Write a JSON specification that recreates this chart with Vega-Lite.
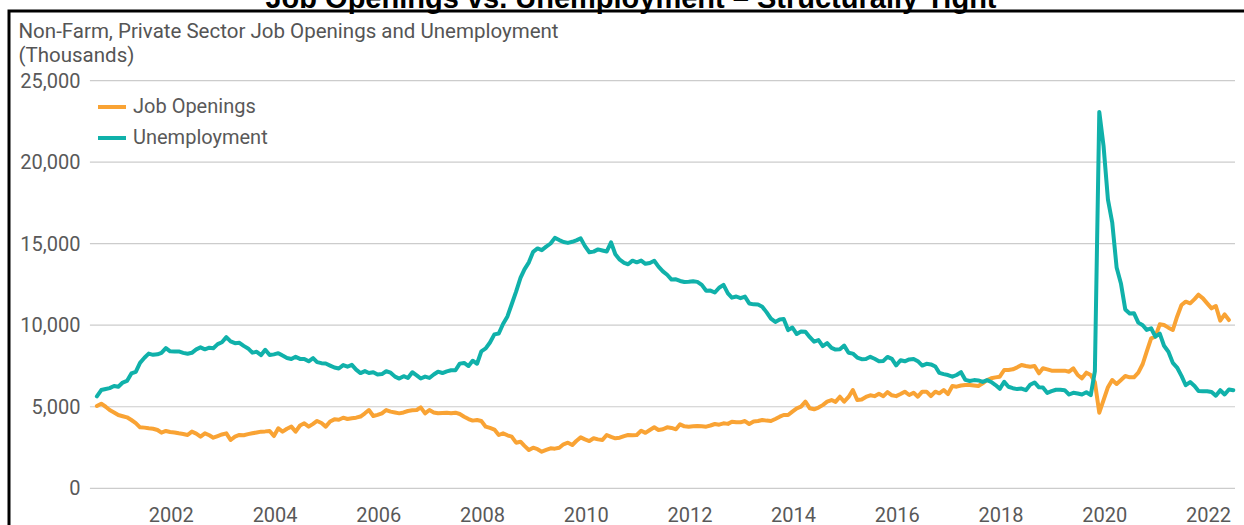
{
  "$schema": "https://vega.github.io/schema/vega-lite/v6.json",
  "width": 1250,
  "height": 530,
  "autosize": {"type": "none"},
  "padding": {"left": 9, "top": 11, "right": 0, "bottom": 0},
  "background": "white",
  "title": {
    "text": "Job Openings vs. Unemployment – Structurally Tight",
    "font": "Liberation Sans",
    "fontWeight": "bold",
    "fontSize": 29,
    "color": "#000000",
    "anchor": "middle",
    "baseline": "top",
    "offset": 0,
    "dx": -3,
    "dy": 2.5
  },
  "config": {
    "view": {"stroke": "#000000", "strokeWidth": 3},
    "font": "Roboto"
  },
  "layer": [
    {
      "data": {"values": [{"value": 0}, {"value": 5000}, {"value": 10000}, {"value": 15000}, {"value": 20000}, {"value": 25000}]},
      "mark": {"type": "rule", "color": "#cccccc", "strokeWidth": 1.2},
      "encoding": {
        "y": {"field": "value", "type": "quantitative"},
        "x": {"datum": {"year": 2000, "month": 10, "date": 13, "utc": true}, "type": "temporal"},
        "x2": {"datum": {"year": 2022, "month": 11, "date": 13, "utc": true}}
      }
    },
    {
      "data": {"values": [
{"date":"2000-12-01","series":"Job Openings","value":5045},
{"date":"2001-01-01","series":"Job Openings","value":5188},
{"date":"2001-02-01","series":"Job Openings","value":5000},
{"date":"2001-03-01","series":"Job Openings","value":4800},
{"date":"2001-04-01","series":"Job Openings","value":4650},
{"date":"2001-05-01","series":"Job Openings","value":4493},
{"date":"2001-06-01","series":"Job Openings","value":4420},
{"date":"2001-07-01","series":"Job Openings","value":4352},
{"date":"2001-08-01","series":"Job Openings","value":4187},
{"date":"2001-09-01","series":"Job Openings","value":4000},
{"date":"2001-10-01","series":"Job Openings","value":3739},
{"date":"2001-11-01","series":"Job Openings","value":3720},
{"date":"2001-12-01","series":"Job Openings","value":3678},
{"date":"2002-01-01","series":"Job Openings","value":3650},
{"date":"2002-02-01","series":"Job Openings","value":3576},
{"date":"2002-03-01","series":"Job Openings","value":3412},
{"date":"2002-04-01","series":"Job Openings","value":3514},
{"date":"2002-05-01","series":"Job Openings","value":3450},
{"date":"2002-06-01","series":"Job Openings","value":3420},
{"date":"2002-07-01","series":"Job Openings","value":3371},
{"date":"2002-08-01","series":"Job Openings","value":3330},
{"date":"2002-09-01","series":"Job Openings","value":3269},
{"date":"2002-10-01","series":"Job Openings","value":3474},
{"date":"2002-11-01","series":"Job Openings","value":3350},
{"date":"2002-12-01","series":"Job Openings","value":3166},
{"date":"2003-01-01","series":"Job Openings","value":3371},
{"date":"2003-02-01","series":"Job Openings","value":3250},
{"date":"2003-03-01","series":"Job Openings","value":3104},
{"date":"2003-04-01","series":"Job Openings","value":3206},
{"date":"2003-05-01","series":"Job Openings","value":3300},
{"date":"2003-06-01","series":"Job Openings","value":3371},
{"date":"2003-07-01","series":"Job Openings","value":2962},
{"date":"2003-08-01","series":"Job Openings","value":3166},
{"date":"2003-09-01","series":"Job Openings","value":3269},
{"date":"2003-10-01","series":"Job Openings","value":3250},
{"date":"2003-11-01","series":"Job Openings","value":3320},
{"date":"2003-12-01","series":"Job Openings","value":3371},
{"date":"2004-01-01","series":"Job Openings","value":3420},
{"date":"2004-02-01","series":"Job Openings","value":3474},
{"date":"2004-03-01","series":"Job Openings","value":3490},
{"date":"2004-04-01","series":"Job Openings","value":3514},
{"date":"2004-05-01","series":"Job Openings","value":3206},
{"date":"2004-06-01","series":"Job Openings","value":3678},
{"date":"2004-07-01","series":"Job Openings","value":3474},
{"date":"2004-08-01","series":"Job Openings","value":3650},
{"date":"2004-09-01","series":"Job Openings","value":3780},
{"date":"2004-10-01","series":"Job Openings","value":3474},
{"date":"2004-11-01","series":"Job Openings","value":3850},
{"date":"2004-12-01","series":"Job Openings","value":3984},
{"date":"2005-01-01","series":"Job Openings","value":3780},
{"date":"2005-02-01","series":"Job Openings","value":3950},
{"date":"2005-03-01","series":"Job Openings","value":4127},
{"date":"2005-04-01","series":"Job Openings","value":4000},
{"date":"2005-05-01","series":"Job Openings","value":3780},
{"date":"2005-06-01","series":"Job Openings","value":4100},
{"date":"2005-07-01","series":"Job Openings","value":4228},
{"date":"2005-08-01","series":"Job Openings","value":4200},
{"date":"2005-09-01","series":"Job Openings","value":4330},
{"date":"2005-10-01","series":"Job Openings","value":4250},
{"date":"2005-11-01","series":"Job Openings","value":4300},
{"date":"2005-12-01","series":"Job Openings","value":4330},
{"date":"2006-01-01","series":"Job Openings","value":4400},
{"date":"2006-02-01","series":"Job Openings","value":4596},
{"date":"2006-03-01","series":"Job Openings","value":4800},
{"date":"2006-04-01","series":"Job Openings","value":4432},
{"date":"2006-05-01","series":"Job Openings","value":4500},
{"date":"2006-06-01","series":"Job Openings","value":4596},
{"date":"2006-07-01","series":"Job Openings","value":4800},
{"date":"2006-08-01","series":"Job Openings","value":4700},
{"date":"2006-09-01","series":"Job Openings","value":4650},
{"date":"2006-10-01","series":"Job Openings","value":4596},
{"date":"2006-11-01","series":"Job Openings","value":4650},
{"date":"2006-12-01","series":"Job Openings","value":4740},
{"date":"2007-01-01","series":"Job Openings","value":4780},
{"date":"2007-02-01","series":"Job Openings","value":4800},
{"date":"2007-03-01","series":"Job Openings","value":4964},
{"date":"2007-04-01","series":"Job Openings","value":4596},
{"date":"2007-05-01","series":"Job Openings","value":4800},
{"date":"2007-06-01","series":"Job Openings","value":4650},
{"date":"2007-07-01","series":"Job Openings","value":4597},
{"date":"2007-08-01","series":"Job Openings","value":4620},
{"date":"2007-09-01","series":"Job Openings","value":4637},
{"date":"2007-10-01","series":"Job Openings","value":4600},
{"date":"2007-11-01","series":"Job Openings","value":4637},
{"date":"2007-12-01","series":"Job Openings","value":4555},
{"date":"2008-01-01","series":"Job Openings","value":4391},
{"date":"2008-02-01","series":"Job Openings","value":4248},
{"date":"2008-03-01","series":"Job Openings","value":4150},
{"date":"2008-04-01","series":"Job Openings","value":4187},
{"date":"2008-05-01","series":"Job Openings","value":4125},
{"date":"2008-06-01","series":"Job Openings","value":3780},
{"date":"2008-07-01","series":"Job Openings","value":3700},
{"date":"2008-08-01","series":"Job Openings","value":3600},
{"date":"2008-09-01","series":"Job Openings","value":3267},
{"date":"2008-10-01","series":"Job Openings","value":3371},
{"date":"2008-11-01","series":"Job Openings","value":3250},
{"date":"2008-12-01","series":"Job Openings","value":3165},
{"date":"2009-01-01","series":"Job Openings","value":2797},
{"date":"2009-02-01","series":"Job Openings","value":2858},
{"date":"2009-03-01","series":"Job Openings","value":2600},
{"date":"2009-04-01","series":"Job Openings","value":2348},
{"date":"2009-05-01","series":"Job Openings","value":2490},
{"date":"2009-06-01","series":"Job Openings","value":2400},
{"date":"2009-07-01","series":"Job Openings","value":2246},
{"date":"2009-08-01","series":"Job Openings","value":2350},
{"date":"2009-09-01","series":"Job Openings","value":2452},
{"date":"2009-10-01","series":"Job Openings","value":2430},
{"date":"2009-11-01","series":"Job Openings","value":2490},
{"date":"2009-12-01","series":"Job Openings","value":2700},
{"date":"2010-01-01","series":"Job Openings","value":2797},
{"date":"2010-02-01","series":"Job Openings","value":2654},
{"date":"2010-03-01","series":"Job Openings","value":2900},
{"date":"2010-04-01","series":"Job Openings","value":3124},
{"date":"2010-05-01","series":"Job Openings","value":3000},
{"date":"2010-06-01","series":"Job Openings","value":2900},
{"date":"2010-07-01","series":"Job Openings","value":3065},
{"date":"2010-08-01","series":"Job Openings","value":3000},
{"date":"2010-09-01","series":"Job Openings","value":2961},
{"date":"2010-10-01","series":"Job Openings","value":3267},
{"date":"2010-11-01","series":"Job Openings","value":3150},
{"date":"2010-12-01","series":"Job Openings","value":3065},
{"date":"2011-01-01","series":"Job Openings","value":3100},
{"date":"2011-02-01","series":"Job Openings","value":3200},
{"date":"2011-03-01","series":"Job Openings","value":3267},
{"date":"2011-04-01","series":"Job Openings","value":3250},
{"date":"2011-05-01","series":"Job Openings","value":3267},
{"date":"2011-06-01","series":"Job Openings","value":3532},
{"date":"2011-07-01","series":"Job Openings","value":3400},
{"date":"2011-08-01","series":"Job Openings","value":3576},
{"date":"2011-09-01","series":"Job Openings","value":3739},
{"date":"2011-10-01","series":"Job Openings","value":3576},
{"date":"2011-11-01","series":"Job Openings","value":3620},
{"date":"2011-12-01","series":"Job Openings","value":3739},
{"date":"2012-01-01","series":"Job Openings","value":3700},
{"date":"2012-02-01","series":"Job Openings","value":3617},
{"date":"2012-03-01","series":"Job Openings","value":3923},
{"date":"2012-04-01","series":"Job Openings","value":3800},
{"date":"2012-05-01","series":"Job Openings","value":3778},
{"date":"2012-06-01","series":"Job Openings","value":3800},
{"date":"2012-07-01","series":"Job Openings","value":3820},
{"date":"2012-08-01","series":"Job Openings","value":3800},
{"date":"2012-09-01","series":"Job Openings","value":3778},
{"date":"2012-10-01","series":"Job Openings","value":3850},
{"date":"2012-11-01","series":"Job Openings","value":3943},
{"date":"2012-12-01","series":"Job Openings","value":3900},
{"date":"2013-01-01","series":"Job Openings","value":3984},
{"date":"2013-02-01","series":"Job Openings","value":3950},
{"date":"2013-03-01","series":"Job Openings","value":4084},
{"date":"2013-04-01","series":"Job Openings","value":4050},
{"date":"2013-05-01","series":"Job Openings","value":4045},
{"date":"2013-06-01","series":"Job Openings","value":4125},
{"date":"2013-07-01","series":"Job Openings","value":3943},
{"date":"2013-08-01","series":"Job Openings","value":4100},
{"date":"2013-09-01","series":"Job Openings","value":4125},
{"date":"2013-10-01","series":"Job Openings","value":4187},
{"date":"2013-11-01","series":"Job Openings","value":4150},
{"date":"2013-12-01","series":"Job Openings","value":4125},
{"date":"2014-01-01","series":"Job Openings","value":4250},
{"date":"2014-02-01","series":"Job Openings","value":4390},
{"date":"2014-03-01","series":"Job Openings","value":4493},
{"date":"2014-04-01","series":"Job Openings","value":4493},
{"date":"2014-05-01","series":"Job Openings","value":4700},
{"date":"2014-06-01","series":"Job Openings","value":4900},
{"date":"2014-07-01","series":"Job Openings","value":5004},
{"date":"2014-08-01","series":"Job Openings","value":5310},
{"date":"2014-09-01","series":"Job Openings","value":4904},
{"date":"2014-10-01","series":"Job Openings","value":4843},
{"date":"2014-11-01","series":"Job Openings","value":4950},
{"date":"2014-12-01","series":"Job Openings","value":5100},
{"date":"2015-01-01","series":"Job Openings","value":5310},
{"date":"2015-02-01","series":"Job Openings","value":5413},
{"date":"2015-03-01","series":"Job Openings","value":5300},
{"date":"2015-04-01","series":"Job Openings","value":5617},
{"date":"2015-05-01","series":"Job Openings","value":5310},
{"date":"2015-06-01","series":"Job Openings","value":5600},
{"date":"2015-07-01","series":"Job Openings","value":6026},
{"date":"2015-08-01","series":"Job Openings","value":5413},
{"date":"2015-09-01","series":"Job Openings","value":5450},
{"date":"2015-10-01","series":"Job Openings","value":5600},
{"date":"2015-11-01","series":"Job Openings","value":5700},
{"date":"2015-12-01","series":"Job Openings","value":5650},
{"date":"2016-01-01","series":"Job Openings","value":5800},
{"date":"2016-02-01","series":"Job Openings","value":5650},
{"date":"2016-03-01","series":"Job Openings","value":5900},
{"date":"2016-04-01","series":"Job Openings","value":5700},
{"date":"2016-05-01","series":"Job Openings","value":5650},
{"date":"2016-06-01","series":"Job Openings","value":5781},
{"date":"2016-07-01","series":"Job Openings","value":5923},
{"date":"2016-08-01","series":"Job Openings","value":5719},
{"date":"2016-09-01","series":"Job Openings","value":5862},
{"date":"2016-10-01","series":"Job Openings","value":5617},
{"date":"2016-11-01","series":"Job Openings","value":5923},
{"date":"2016-12-01","series":"Job Openings","value":5923},
{"date":"2017-01-01","series":"Job Openings","value":5658},
{"date":"2017-02-01","series":"Job Openings","value":5923},
{"date":"2017-03-01","series":"Job Openings","value":5822},
{"date":"2017-04-01","series":"Job Openings","value":6026},
{"date":"2017-05-01","series":"Job Openings","value":5781},
{"date":"2017-06-01","series":"Job Openings","value":6271},
{"date":"2017-07-01","series":"Job Openings","value":6230},
{"date":"2017-08-01","series":"Job Openings","value":6300},
{"date":"2017-09-01","series":"Job Openings","value":6332},
{"date":"2017-10-01","series":"Job Openings","value":6332},
{"date":"2017-11-01","series":"Job Openings","value":6300},
{"date":"2017-12-01","series":"Job Openings","value":6271},
{"date":"2018-01-01","series":"Job Openings","value":6437},
{"date":"2018-02-01","series":"Job Openings","value":6640},
{"date":"2018-03-01","series":"Job Openings","value":6743},
{"date":"2018-04-01","series":"Job Openings","value":6800},
{"date":"2018-05-01","series":"Job Openings","value":6843},
{"date":"2018-06-01","series":"Job Openings","value":7253},
{"date":"2018-07-01","series":"Job Openings","value":7253},
{"date":"2018-08-01","series":"Job Openings","value":7294},
{"date":"2018-09-01","series":"Job Openings","value":7417},
{"date":"2018-10-01","series":"Job Openings","value":7560},
{"date":"2018-11-01","series":"Job Openings","value":7500},
{"date":"2018-12-01","series":"Job Openings","value":7457},
{"date":"2019-01-01","series":"Job Openings","value":7499},
{"date":"2019-02-01","series":"Job Openings","value":7050},
{"date":"2019-03-01","series":"Job Openings","value":7356},
{"date":"2019-04-01","series":"Job Openings","value":7294},
{"date":"2019-05-01","series":"Job Openings","value":7213},
{"date":"2019-06-01","series":"Job Openings","value":7213},
{"date":"2019-07-01","series":"Job Openings","value":7213},
{"date":"2019-08-01","series":"Job Openings","value":7213},
{"date":"2019-09-01","series":"Job Openings","value":7150},
{"date":"2019-10-01","series":"Job Openings","value":7356},
{"date":"2019-11-01","series":"Job Openings","value":6945},
{"date":"2019-12-01","series":"Job Openings","value":6743},
{"date":"2020-01-01","series":"Job Openings","value":7089},
{"date":"2020-02-01","series":"Job Openings","value":6945},
{"date":"2020-03-01","series":"Job Openings","value":6500},
{"date":"2020-04-01","series":"Job Openings","value":4635},
{"date":"2020-05-01","series":"Job Openings","value":5400},
{"date":"2020-06-01","series":"Job Openings","value":6200},
{"date":"2020-07-01","series":"Job Openings","value":6640},
{"date":"2020-08-01","series":"Job Openings","value":6393},
{"date":"2020-09-01","series":"Job Openings","value":6640},
{"date":"2020-10-01","series":"Job Openings","value":6884},
{"date":"2020-11-01","series":"Job Openings","value":6803},
{"date":"2020-12-01","series":"Job Openings","value":6803},
{"date":"2021-01-01","series":"Job Openings","value":7089},
{"date":"2021-02-01","series":"Job Openings","value":7621},
{"date":"2021-03-01","series":"Job Openings","value":8375},
{"date":"2021-04-01","series":"Job Openings","value":9195},
{"date":"2021-05-01","series":"Job Openings","value":9295},
{"date":"2021-06-01","series":"Job Openings","value":10053},
{"date":"2021-07-01","series":"Job Openings","value":10012},
{"date":"2021-08-01","series":"Job Openings","value":9850},
{"date":"2021-09-01","series":"Job Openings","value":9705},
{"date":"2021-10-01","series":"Job Openings","value":10521},
{"date":"2021-11-01","series":"Job Openings","value":11237},
{"date":"2021-12-01","series":"Job Openings","value":11441},
{"date":"2022-01-01","series":"Job Openings","value":11340},
{"date":"2022-02-01","series":"Job Openings","value":11600},
{"date":"2022-03-01","series":"Job Openings","value":11870},
{"date":"2022-04-01","series":"Job Openings","value":11647},
{"date":"2022-05-01","series":"Job Openings","value":11340},
{"date":"2022-06-01","series":"Job Openings","value":11034},
{"date":"2022-07-01","series":"Job Openings","value":11176},
{"date":"2022-08-01","series":"Job Openings","value":10276},
{"date":"2022-09-01","series":"Job Openings","value":10664},
{"date":"2022-10-01","series":"Job Openings","value":10318},
{"date":"2000-12-01","series":"Unemployment","value":5634},
{"date":"2001-01-01","series":"Unemployment","value":6023},
{"date":"2001-02-01","series":"Unemployment","value":6089},
{"date":"2001-03-01","series":"Unemployment","value":6141},
{"date":"2001-04-01","series":"Unemployment","value":6271},
{"date":"2001-05-01","series":"Unemployment","value":6226},
{"date":"2001-06-01","series":"Unemployment","value":6484},
{"date":"2001-07-01","series":"Unemployment","value":6583},
{"date":"2001-08-01","series":"Unemployment","value":7042},
{"date":"2001-09-01","series":"Unemployment","value":7142},
{"date":"2001-10-01","series":"Unemployment","value":7694},
{"date":"2001-11-01","series":"Unemployment","value":8003},
{"date":"2001-12-01","series":"Unemployment","value":8258},
{"date":"2002-01-01","series":"Unemployment","value":8182},
{"date":"2002-02-01","series":"Unemployment","value":8215},
{"date":"2002-03-01","series":"Unemployment","value":8304},
{"date":"2002-04-01","series":"Unemployment","value":8599},
{"date":"2002-05-01","series":"Unemployment","value":8399},
{"date":"2002-06-01","series":"Unemployment","value":8393},
{"date":"2002-07-01","series":"Unemployment","value":8390},
{"date":"2002-08-01","series":"Unemployment","value":8304},
{"date":"2002-09-01","series":"Unemployment","value":8251},
{"date":"2002-10-01","series":"Unemployment","value":8307},
{"date":"2002-11-01","series":"Unemployment","value":8520},
{"date":"2002-12-01","series":"Unemployment","value":8640},
{"date":"2003-01-01","series":"Unemployment","value":8520},
{"date":"2003-02-01","series":"Unemployment","value":8618},
{"date":"2003-03-01","series":"Unemployment","value":8588},
{"date":"2003-04-01","series":"Unemployment","value":8842},
{"date":"2003-05-01","series":"Unemployment","value":8957},
{"date":"2003-06-01","series":"Unemployment","value":9266},
{"date":"2003-07-01","series":"Unemployment","value":9011},
{"date":"2003-08-01","series":"Unemployment","value":8896},
{"date":"2003-09-01","series":"Unemployment","value":8921},
{"date":"2003-10-01","series":"Unemployment","value":8732},
{"date":"2003-11-01","series":"Unemployment","value":8576},
{"date":"2003-12-01","series":"Unemployment","value":8317},
{"date":"2004-01-01","series":"Unemployment","value":8370},
{"date":"2004-02-01","series":"Unemployment","value":8167},
{"date":"2004-03-01","series":"Unemployment","value":8491},
{"date":"2004-04-01","series":"Unemployment","value":8170},
{"date":"2004-05-01","series":"Unemployment","value":8212},
{"date":"2004-06-01","series":"Unemployment","value":8286},
{"date":"2004-07-01","series":"Unemployment","value":8136},
{"date":"2004-08-01","series":"Unemployment","value":7990},
{"date":"2004-09-01","series":"Unemployment","value":7927},
{"date":"2004-10-01","series":"Unemployment","value":8061},
{"date":"2004-11-01","series":"Unemployment","value":7932},
{"date":"2004-12-01","series":"Unemployment","value":7934},
{"date":"2005-01-01","series":"Unemployment","value":7784},
{"date":"2005-02-01","series":"Unemployment","value":7980},
{"date":"2005-03-01","series":"Unemployment","value":7737},
{"date":"2005-04-01","series":"Unemployment","value":7672},
{"date":"2005-05-01","series":"Unemployment","value":7651},
{"date":"2005-06-01","series":"Unemployment","value":7524},
{"date":"2005-07-01","series":"Unemployment","value":7406},
{"date":"2005-08-01","series":"Unemployment","value":7345},
{"date":"2005-09-01","series":"Unemployment","value":7553},
{"date":"2005-10-01","series":"Unemployment","value":7453},
{"date":"2005-11-01","series":"Unemployment","value":7566},
{"date":"2005-12-01","series":"Unemployment","value":7279},
{"date":"2006-01-01","series":"Unemployment","value":7064},
{"date":"2006-02-01","series":"Unemployment","value":7184},
{"date":"2006-03-01","series":"Unemployment","value":7072},
{"date":"2006-04-01","series":"Unemployment","value":7120},
{"date":"2006-05-01","series":"Unemployment","value":6980},
{"date":"2006-06-01","series":"Unemployment","value":7001},
{"date":"2006-07-01","series":"Unemployment","value":7175},
{"date":"2006-08-01","series":"Unemployment","value":7091},
{"date":"2006-09-01","series":"Unemployment","value":6847},
{"date":"2006-10-01","series":"Unemployment","value":6727},
{"date":"2006-11-01","series":"Unemployment","value":6872},
{"date":"2006-12-01","series":"Unemployment","value":6762},
{"date":"2007-01-01","series":"Unemployment","value":7116},
{"date":"2007-02-01","series":"Unemployment","value":6927},
{"date":"2007-03-01","series":"Unemployment","value":6731},
{"date":"2007-04-01","series":"Unemployment","value":6850},
{"date":"2007-05-01","series":"Unemployment","value":6766},
{"date":"2007-06-01","series":"Unemployment","value":6979},
{"date":"2007-07-01","series":"Unemployment","value":7149},
{"date":"2007-08-01","series":"Unemployment","value":7067},
{"date":"2007-09-01","series":"Unemployment","value":7170},
{"date":"2007-10-01","series":"Unemployment","value":7237},
{"date":"2007-11-01","series":"Unemployment","value":7240},
{"date":"2007-12-01","series":"Unemployment","value":7645},
{"date":"2008-01-01","series":"Unemployment","value":7685},
{"date":"2008-02-01","series":"Unemployment","value":7497},
{"date":"2008-03-01","series":"Unemployment","value":7822},
{"date":"2008-04-01","series":"Unemployment","value":7637},
{"date":"2008-05-01","series":"Unemployment","value":8395},
{"date":"2008-06-01","series":"Unemployment","value":8575},
{"date":"2008-07-01","series":"Unemployment","value":8937},
{"date":"2008-08-01","series":"Unemployment","value":9438},
{"date":"2008-09-01","series":"Unemployment","value":9494},
{"date":"2008-10-01","series":"Unemployment","value":10074},
{"date":"2008-11-01","series":"Unemployment","value":10538},
{"date":"2008-12-01","series":"Unemployment","value":11286},
{"date":"2009-01-01","series":"Unemployment","value":12058},
{"date":"2009-02-01","series":"Unemployment","value":12898},
{"date":"2009-03-01","series":"Unemployment","value":13426},
{"date":"2009-04-01","series":"Unemployment","value":13853},
{"date":"2009-05-01","series":"Unemployment","value":14499},
{"date":"2009-06-01","series":"Unemployment","value":14707},
{"date":"2009-07-01","series":"Unemployment","value":14601},
{"date":"2009-08-01","series":"Unemployment","value":14814},
{"date":"2009-09-01","series":"Unemployment","value":15009},
{"date":"2009-10-01","series":"Unemployment","value":15352},
{"date":"2009-11-01","series":"Unemployment","value":15219},
{"date":"2009-12-01","series":"Unemployment","value":15098},
{"date":"2010-01-01","series":"Unemployment","value":15046},
{"date":"2010-02-01","series":"Unemployment","value":15113},
{"date":"2010-03-01","series":"Unemployment","value":15202},
{"date":"2010-04-01","series":"Unemployment","value":15325},
{"date":"2010-05-01","series":"Unemployment","value":14849},
{"date":"2010-06-01","series":"Unemployment","value":14474},
{"date":"2010-07-01","series":"Unemployment","value":14512},
{"date":"2010-08-01","series":"Unemployment","value":14648},
{"date":"2010-09-01","series":"Unemployment","value":14579},
{"date":"2010-10-01","series":"Unemployment","value":14516},
{"date":"2010-11-01","series":"Unemployment","value":15081},
{"date":"2010-12-01","series":"Unemployment","value":14348},
{"date":"2011-01-01","series":"Unemployment","value":14013},
{"date":"2011-02-01","series":"Unemployment","value":13820},
{"date":"2011-03-01","series":"Unemployment","value":13737},
{"date":"2011-04-01","series":"Unemployment","value":13957},
{"date":"2011-05-01","series":"Unemployment","value":13855},
{"date":"2011-06-01","series":"Unemployment","value":13962},
{"date":"2011-07-01","series":"Unemployment","value":13763},
{"date":"2011-08-01","series":"Unemployment","value":13818},
{"date":"2011-09-01","series":"Unemployment","value":13948},
{"date":"2011-10-01","series":"Unemployment","value":13594},
{"date":"2011-11-01","series":"Unemployment","value":13302},
{"date":"2011-12-01","series":"Unemployment","value":13093},
{"date":"2012-01-01","series":"Unemployment","value":12797},
{"date":"2012-02-01","series":"Unemployment","value":12813},
{"date":"2012-03-01","series":"Unemployment","value":12713},
{"date":"2012-04-01","series":"Unemployment","value":12646},
{"date":"2012-05-01","series":"Unemployment","value":12660},
{"date":"2012-06-01","series":"Unemployment","value":12692},
{"date":"2012-07-01","series":"Unemployment","value":12656},
{"date":"2012-08-01","series":"Unemployment","value":12471},
{"date":"2012-09-01","series":"Unemployment","value":12115},
{"date":"2012-10-01","series":"Unemployment","value":12124},
{"date":"2012-11-01","series":"Unemployment","value":12005},
{"date":"2012-12-01","series":"Unemployment","value":12298},
{"date":"2013-01-01","series":"Unemployment","value":12471},
{"date":"2013-02-01","series":"Unemployment","value":11950},
{"date":"2013-03-01","series":"Unemployment","value":11689},
{"date":"2013-04-01","series":"Unemployment","value":11760},
{"date":"2013-05-01","series":"Unemployment","value":11654},
{"date":"2013-06-01","series":"Unemployment","value":11751},
{"date":"2013-07-01","series":"Unemployment","value":11335},
{"date":"2013-08-01","series":"Unemployment","value":11279},
{"date":"2013-09-01","series":"Unemployment","value":11270},
{"date":"2013-10-01","series":"Unemployment","value":11136},
{"date":"2013-11-01","series":"Unemployment","value":10787},
{"date":"2013-12-01","series":"Unemployment","value":10404},
{"date":"2014-01-01","series":"Unemployment","value":10202},
{"date":"2014-02-01","series":"Unemployment","value":10349},
{"date":"2014-03-01","series":"Unemployment","value":10380},
{"date":"2014-04-01","series":"Unemployment","value":9702},
{"date":"2014-05-01","series":"Unemployment","value":9859},
{"date":"2014-06-01","series":"Unemployment","value":9460},
{"date":"2014-07-01","series":"Unemployment","value":9608},
{"date":"2014-08-01","series":"Unemployment","value":9599},
{"date":"2014-09-01","series":"Unemployment","value":9262},
{"date":"2014-10-01","series":"Unemployment","value":8990},
{"date":"2014-11-01","series":"Unemployment","value":9090},
{"date":"2014-12-01","series":"Unemployment","value":8717},
{"date":"2015-01-01","series":"Unemployment","value":8903},
{"date":"2015-02-01","series":"Unemployment","value":8610},
{"date":"2015-03-01","series":"Unemployment","value":8504},
{"date":"2015-04-01","series":"Unemployment","value":8526},
{"date":"2015-05-01","series":"Unemployment","value":8749},
{"date":"2015-06-01","series":"Unemployment","value":8314},
{"date":"2015-07-01","series":"Unemployment","value":8259},
{"date":"2015-08-01","series":"Unemployment","value":8016},
{"date":"2015-09-01","series":"Unemployment","value":7915},
{"date":"2015-10-01","series":"Unemployment","value":7927},
{"date":"2015-11-01","series":"Unemployment","value":8061},
{"date":"2015-12-01","series":"Unemployment","value":7942},
{"date":"2016-01-01","series":"Unemployment","value":7790},
{"date":"2016-02-01","series":"Unemployment","value":7810},
{"date":"2016-03-01","series":"Unemployment","value":8056},
{"date":"2016-04-01","series":"Unemployment","value":7933},
{"date":"2016-05-01","series":"Unemployment","value":7537},
{"date":"2016-06-01","series":"Unemployment","value":7850},
{"date":"2016-07-01","series":"Unemployment","value":7786},
{"date":"2016-08-01","series":"Unemployment","value":7899},
{"date":"2016-09-01","series":"Unemployment","value":7934},
{"date":"2016-10-01","series":"Unemployment","value":7793},
{"date":"2016-11-01","series":"Unemployment","value":7526},
{"date":"2016-12-01","series":"Unemployment","value":7633},
{"date":"2017-01-01","series":"Unemployment","value":7597},
{"date":"2017-02-01","series":"Unemployment","value":7466},
{"date":"2017-03-01","series":"Unemployment","value":7077},
{"date":"2017-04-01","series":"Unemployment","value":7001},
{"date":"2017-05-01","series":"Unemployment","value":6944},
{"date":"2017-06-01","series":"Unemployment","value":6846},
{"date":"2017-07-01","series":"Unemployment","value":6947},
{"date":"2017-08-01","series":"Unemployment","value":7121},
{"date":"2017-09-01","series":"Unemployment","value":6645},
{"date":"2017-10-01","series":"Unemployment","value":6579},
{"date":"2017-11-01","series":"Unemployment","value":6633},
{"date":"2017-12-01","series":"Unemployment","value":6613},
{"date":"2018-01-01","series":"Unemployment","value":6525},
{"date":"2018-02-01","series":"Unemployment","value":6631},
{"date":"2018-03-01","series":"Unemployment","value":6519},
{"date":"2018-04-01","series":"Unemployment","value":6330},
{"date":"2018-05-01","series":"Unemployment","value":6099},
{"date":"2018-06-01","series":"Unemployment","value":6534},
{"date":"2018-07-01","series":"Unemployment","value":6227},
{"date":"2018-08-01","series":"Unemployment","value":6139},
{"date":"2018-09-01","series":"Unemployment","value":6082},
{"date":"2018-10-01","series":"Unemployment","value":6118},
{"date":"2018-11-01","series":"Unemployment","value":6016},
{"date":"2018-12-01","series":"Unemployment","value":6346},
{"date":"2019-01-01","series":"Unemployment","value":6490},
{"date":"2019-02-01","series":"Unemployment","value":6188},
{"date":"2019-03-01","series":"Unemployment","value":6187},
{"date":"2019-04-01","series":"Unemployment","value":5850},
{"date":"2019-05-01","series":"Unemployment","value":5953},
{"date":"2019-06-01","series":"Unemployment","value":6041},
{"date":"2019-07-01","series":"Unemployment","value":6046},
{"date":"2019-08-01","series":"Unemployment","value":6018},
{"date":"2019-09-01","series":"Unemployment","value":5751},
{"date":"2019-10-01","series":"Unemployment","value":5857},
{"date":"2019-11-01","series":"Unemployment","value":5811},
{"date":"2019-12-01","series":"Unemployment","value":5753},
{"date":"2020-01-01","series":"Unemployment","value":5892},
{"date":"2020-02-01","series":"Unemployment","value":5717},
{"date":"2020-03-01","series":"Unemployment","value":7185},
{"date":"2020-04-01","series":"Unemployment","value":23078},
{"date":"2020-05-01","series":"Unemployment","value":20985},
{"date":"2020-06-01","series":"Unemployment","value":17697},
{"date":"2020-07-01","series":"Unemployment","value":16308},
{"date":"2020-08-01","series":"Unemployment","value":13542},
{"date":"2020-09-01","series":"Unemployment","value":12535},
{"date":"2020-10-01","series":"Unemployment","value":10966},
{"date":"2020-11-01","series":"Unemployment","value":10717},
{"date":"2020-12-01","series":"Unemployment","value":10736},
{"date":"2021-01-01","series":"Unemployment","value":10158},
{"date":"2021-02-01","series":"Unemployment","value":9994},
{"date":"2021-03-01","series":"Unemployment","value":9713},
{"date":"2021-04-01","series":"Unemployment","value":9812},
{"date":"2021-05-01","series":"Unemployment","value":9300},
{"date":"2021-06-01","series":"Unemployment","value":9484},
{"date":"2021-07-01","series":"Unemployment","value":8738},
{"date":"2021-08-01","series":"Unemployment","value":8375},
{"date":"2021-09-01","series":"Unemployment","value":7690},
{"date":"2021-10-01","series":"Unemployment","value":7404},
{"date":"2021-11-01","series":"Unemployment","value":6890},
{"date":"2021-12-01","series":"Unemployment","value":6319},
{"date":"2022-01-01","series":"Unemployment","value":6511},
{"date":"2022-02-01","series":"Unemployment","value":6274},
{"date":"2022-03-01","series":"Unemployment","value":5970},
{"date":"2022-04-01","series":"Unemployment","value":5952},
{"date":"2022-05-01","series":"Unemployment","value":5956},
{"date":"2022-06-01","series":"Unemployment","value":5910},
{"date":"2022-07-01","series":"Unemployment","value":5677},
{"date":"2022-08-01","series":"Unemployment","value":6014},
{"date":"2022-09-01","series":"Unemployment","value":5753},
{"date":"2022-10-01","series":"Unemployment","value":6059},
{"date":"2022-11-01","series":"Unemployment","value":6011}
      ]},
      "mark": {"type": "line", "strokeWidth": 4, "strokeJoin": "round", "strokeCap": "round"},
      "encoding": {
        "x": {
          "field": "date",
          "type": "temporal",
          "scale": {"type": "utc", "domain": [{"year": 1999, "month": 3, "date": 23, "utc": true}, {"year": 2023, "month": 5, "date": 1, "utc": true}], "nice": false},
          "axis": {
            "values": [
              {"year": 2002, "month": 5, "date": 6, "utc": true},
              {"year": 2004, "month": 5, "date": 6, "utc": true},
              {"year": 2006, "month": 5, "date": 6, "utc": true},
              {"year": 2008, "month": 5, "date": 6, "utc": true},
              {"year": 2010, "month": 5, "date": 6, "utc": true},
              {"year": 2012, "month": 5, "date": 6, "utc": true},
              {"year": 2014, "month": 5, "date": 6, "utc": true},
              {"year": 2016, "month": 5, "date": 6, "utc": true},
              {"year": 2018, "month": 5, "date": 6, "utc": true},
              {"year": 2020, "month": 5, "date": 6, "utc": true},
              {"year": 2022, "month": 5, "date": 6, "utc": true}
            ],
            "labelExpr": "utcFormat(datum.value, '%Y')",
            "title": null,
            "grid": false,
            "domain": false,
            "ticks": false,
            "tickSize": 0,
            "labelPadding": 0,
            "labelBaseline": "alphabetic",
            "labelFont": "Roboto",
            "labelFontSize": 20,
            "labelColor": "#595959",
            "labelFlush": false,
            "labelOverlap": false,
            "offset": -20
          }
        },
        "y": {
          "field": "value",
          "type": "quantitative",
          "scale": {"domain": [-3231, 29264], "nice": false, "zero": false},
          "axis": {
            "values": [0, 5000, 10000, 15000, 20000, 25000],
            "format": ",d",
            "grid": false,
            "domain": false,
            "ticks": false,
            "tickSize": 0,
            "labelPadding": 0,
            "labelAlign": "right",
            "labelBaseline": "alphabetic",
            "labelOffset": 6.5,
            "labelFont": "Roboto",
            "labelFontSize": 20,
            "labelColor": "#595959",
            "offset": -71,
            "title": ["Non-Farm, Private Sector Job Openings and Unemployment", "(Thousands)"],
            "titleFont": "Roboto",
            "titleFontSize": 20.5,
            "titleFontWeight": "normal",
            "titleColor": "#555555",
            "titleAngle": 0,
            "titleAlign": "left",
            "titleBaseline": "alphabetic",
            "titleLineHeight": 24.5,
            "titleX": -62,
            "titleY": 26
          }
        },
        "color": {
          "field": "series",
          "type": "nominal",
          "scale": {"domain": ["Job Openings", "Unemployment"], "range": ["#f9a334", "#10b1aa"]},
          "legend": {
            "orient": "none",
            "legendX": 87,
            "legendY": 80,
            "title": null,
            "padding": 0,
            "symbolType": "stroke",
            "symbolSize": 784,
            "symbolStrokeWidth": 4,
            "labelFont": "Roboto",
            "labelFontSize": 20,
            "labelColor": "#595959",
            "labelOffset": 5,
            "rowPadding": 5
          }
        }
      }
    }
  ]
}
